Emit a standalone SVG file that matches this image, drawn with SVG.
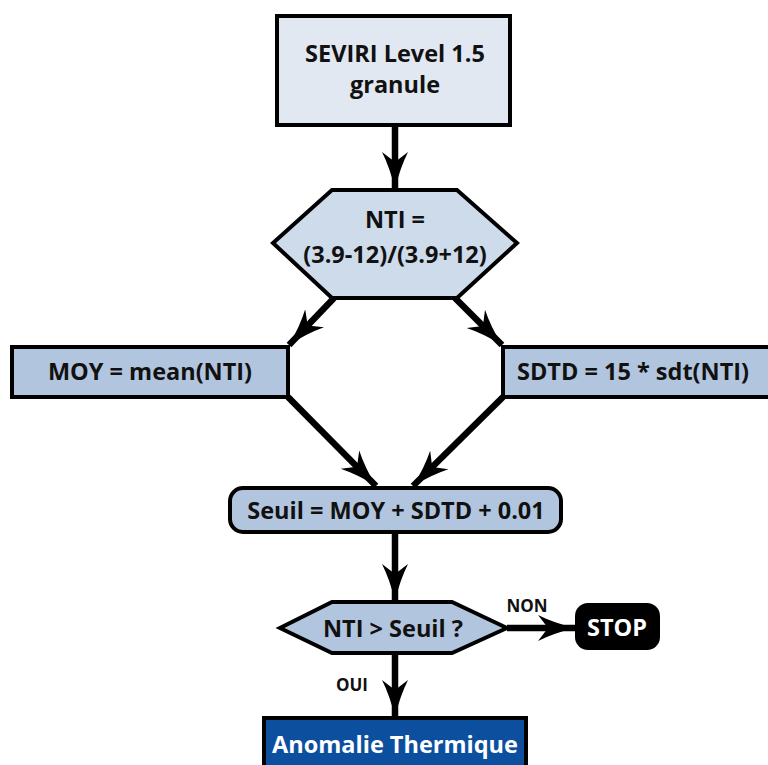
<svg xmlns="http://www.w3.org/2000/svg" width="768" height="765" viewBox="0 0 768 765">
<style>
.box{stroke:#000;stroke-width:4}
.t{font-family:"Open Sans","Liberation Sans",sans-serif;font-weight:bold;font-size:23.5px;fill:#111;text-anchor:middle;dominant-baseline:central}
.w{fill:#fff}
.lbl{font-family:"Open Sans","Liberation Sans",sans-serif;font-weight:bold;font-size:17px;fill:#111;text-anchor:middle;dominant-baseline:central}
.c{stroke:#000;stroke-width:6.5;fill:none;marker-end:url(#ah)}
</style>
<defs>
<marker id="ah" markerUnits="userSpaceOnUse" markerWidth="40" markerHeight="30" refX="37" refY="15" orient="auto">
<path d="M0,2 Q16,10 37,15 Q16,20 0,28 L10,15 Z" fill="#000"/>
</marker>
</defs>
<rect width="768" height="765" fill="#fff"/>
<g id="connectors">
<line class="c" x1="395" y1="126" x2="395" y2="189"/>
<line class="c" x1="334" y1="298" x2="289" y2="345"/>
<line class="c" x1="455" y1="298" x2="502" y2="345"/>
<line class="c" x1="288" y1="397" x2="376" y2="486"/>
<line class="c" x1="503" y1="397" x2="413" y2="486"/>
<line class="c" x1="395" y1="532" x2="395" y2="601"/>
<line class="c" x1="507" y1="628" x2="575" y2="628"/>
<line class="c" x1="395" y1="653" x2="395" y2="717"/>
<text class="lbl" x="527" y="605">NON</text>
<text class="lbl" x="352" y="684">OUI</text>
</g>
<g id="n1">
<rect class="box" x="277" y="16" width="233" height="109" fill="#e2e8f1"/>
<text class="t" x="395" y="53">SEVIRI Level 1.5</text>
<text class="t" x="395" y="84">granule</text>
</g>
<g id="n2">
<polygon class="box" points="332,190 457,190 517,243 457,298 332,298 273,243" fill="#cddbea"/>
<text class="t" x="395" y="219">NTI =</text>
<text class="t" x="395" y="254">(3.9-12)/(3.9+12)</text>
</g>
<g id="n3">
<rect class="box" x="12" y="347" width="276" height="50" fill="#b1c5de"/>
<text class="t" x="150" y="371">MOY = mean(NTI)</text>
</g>
<g id="n4">
<rect class="box" x="503" y="347" width="268" height="50" fill="#b1c5de"/>
<text class="t" x="633" y="371">SDTD = 15 * sdt(NTI)</text>
</g>
<g id="n5">
<rect class="box" x="230" y="488" width="331" height="44" rx="13" fill="#b1c5de"/>
<text class="t" x="396" y="510">Seuil = MOY + SDTD + 0.01</text>
</g>
<g id="n6">
<polygon class="box" points="332,602 452,602 507,628 452,653 332,653 280,628" fill="#b1c5de"/>
<text class="t" x="393" y="628">NTI &gt; Seuil ?</text>
</g>
<g id="n7">
<rect x="575" y="603" width="85" height="47" rx="13" fill="#000"/>
<text class="t w" x="617" y="627">STOP</text>
</g>
<g id="n8">
<rect class="box" x="264" y="718" width="262" height="52" fill="#0d4f9f"/>
<text class="t w" x="395" y="744">Anomalie Thermique</text>
</g>
</svg>
